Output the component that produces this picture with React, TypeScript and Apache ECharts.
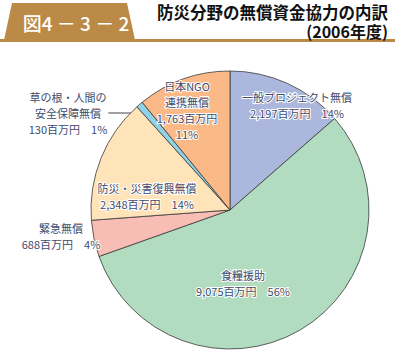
import React, { useEffect, useRef } from "react";
import * as echarts from "echarts";

const categories = [
  "一般プロジェクト無償",
  "食糧援助",
  "緊急無償",
  "防災・災害復興無償",
  "草の根・人間の\n安全保障無償",
  "日本NGO\n連携無償",
];
const values = [2197, 9075, 688, 2348, 130, 1763];
const colors = ["#abb7dd", "#b1dcbf", "#f8bdb5", "#fee4b8", "#8fd4e6", "#fbb988"];
const unit = "百万円";
const titleText = "防災分野の無償資金協力の内訳";
const subTitleText = "(2006年度)";
const figText = "図4 － 3 － 2";

// label anchor positions (layout only)
const labelPos: [number, number][] = [
  [297, 105],
  [243, 283],
  [61, 236],
  [147, 196],
  [68, 113],
  [187, 110],
];

export default function App() {
  const ref = useRef<HTMLDivElement>(null);
  useEffect(() => {
    if (!ref.current) return;
    const chart = echarts.init(ref.current, undefined, { renderer: "svg" });
    const font = '"Noto Sans CJK JP", "Noto Sans", sans-serif';
    chart.setOption({
      animation: false,
      backgroundColor: "#ffffff",
      graphic: [
        {
          type: "polygon",
          shape: { points: [[4, 40], [12, 3], [127, 3], [135, 40]] },
          style: { fill: "#bb8a47" },
        },
        {
          type: "rect",
          shape: { x: 0, y: 39, width: 395, height: 3 },
          style: { fill: "#bb8a47" },
        },
        {
          type: "text",
          x: 76,
          y: 22,
          style: {
            text: figText,
            fill: "#ffffff",
            font: `500 19px ${font}`,
            align: "center",
            verticalAlign: "middle",
          },
        },
        {
          type: "text",
          x: 388,
          y: 12,
          style: {
            text: titleText,
            fill: "#111111",
            font: `bold 16.5px ${font}`,
            align: "right",
            verticalAlign: "middle",
          },
        },
        {
          type: "text",
          x: 388,
          y: 31,
          style: {
            text: subTitleText,
            fill: "#111111",
            font: `bold 16px ${font}`,
            align: "right",
            verticalAlign: "middle",
          },
        },
      ],
      series: [
        {
          type: "pie",
          center: [230, 210],
          radius: 139,
          startAngle: 90,
          clockwise: true,
          data: categories.map((c, i) => ({
            name: c,
            value: values[i],
            itemStyle: { color: colors[i] },
            labelLine: i === 4 ? { show: true } : { show: false },
          })),
          itemStyle: { borderColor: "#3a3a3a", borderWidth: 0.8 },
          label: {
            show: true,
            position: "inside",
            fontFamily: font,
            fontSize: 11,
            lineHeight: 16,
            color: "#3e4a6c",
            textBorderColor: "#ffffff",
            textBorderWidth: 2,
            align: "center",
            formatter: (p: any) => {
              const v = (p.value as number).toLocaleString("en-US") + unit;
              const pct = Math.round(p.percent) + "%";
              if (p.dataIndex === 5) return `${p.name}\n${v}\n${pct}`;
              return `${p.name}\n${v}　${pct}`;
            },
          },
          labelLine: {
            lineStyle: { color: "#444", width: 1 },
          },
          labelLayout: (params: any) => {
            const i = params.dataIndex;
            const [x, y] = labelPos[i];
            const res: any = { x, y, align: "center", verticalAlign: "middle" };
            if (i === 4) {
              res.labelLinePoints = [
                [141, 108],
                [135, 98],
                [114, 98],
              ];
            }
            return res;
          },
        },
      ],
    });
    return () => chart.dispose();
  }, []);
  return (
    <div
      ref={ref}
      style={{ position: "absolute", left: 0, top: 0, width: 395, height: 351 }}
    />
  );
}
